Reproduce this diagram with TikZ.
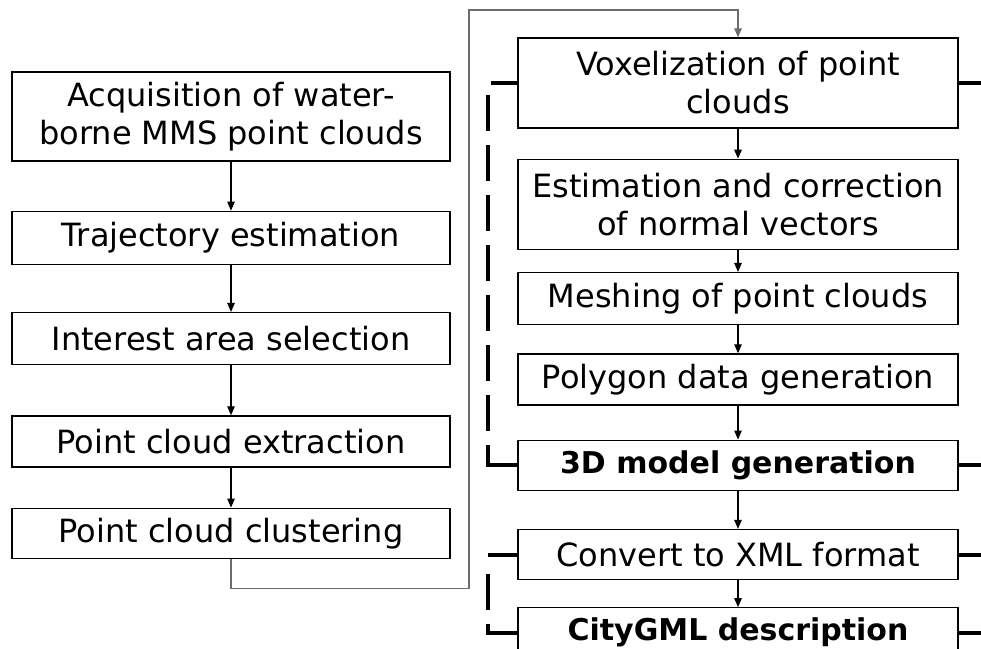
\documentclass[tikz,border=0pt]{standalone}
\usepackage{fontspec}
\setmainfont{DejaVu Sans}
\usepackage{tikz}
\usetikzlibrary{arrows.meta,positioning,calc}
\newcommand{\keystep}[1]{{\fontsize{30}{36}\selectfont\bfseries #1}}

\begin{document}
\begin{tikzpicture}[
      x=1pt, y=1pt, >={Triangle[length=9pt,width=7.5pt]},
      font=\fontsize{32}{38}\selectfont,
      stage/.style={draw, line width=1.3pt, align=center, inner sep=0pt},
      lstage/.style={stage, minimum width=438pt},
      rstage/.style={stage, minimum width=440pt},
      flow/.style={->, line width=1.1pt},
      link/.style={->, line width=1.2pt, draw=gray!85!black},
      brace/.style={line width=4pt},
      gapline/.style={brace, dash pattern=on 36pt off 14pt},
    ]
    \useasboundingbox (0,0) rectangle (981,-648);
    \coordinate (edge) at (981,0);

    % left column: acquisition and preprocessing
    \node[lstage, minimum height=89pt] (acq) at (231,-116.5)
      {Acquisition of water-\\borne MMS point clouds};
    \node[lstage, minimum height=53pt, below=49pt of acq] (traj) {Trajectory estimation};
    \node[lstage, minimum height=52pt, below=47pt of traj] (area) {Interest area selection};
    \node[lstage, minimum height=51pt, below=50pt of area] (extr) {Point cloud extraction};
    \node[lstage, minimum height=50pt, below=40pt of extr] (clus) {Point cloud clustering};

    % right column: modelling and output
    \node[rstage, minimum height=90pt] (vox) at (738,-83)
      {Voxelization of point\\clouds};
    \node[rstage, minimum height=90pt, below=30pt of vox] (norm)
      {Estimation and correction\\of normal vectors};
    \node[rstage, minimum height=52pt, below=22pt of norm] (mesh) {Meshing of point clouds};
    \node[rstage, minimum height=51pt, below=28pt of mesh] (poly) {Polygon data generation};
    \node[rstage, minimum height=50pt, below=34pt of poly] (model) {\keystep{3D model generation}};
    \node[rstage, minimum height=50pt, below=38pt of model] (xml) {Convert to XML format};
    \node[rstage, minimum height=50pt, below=27pt of xml] (gml) {\keystep{CityGML description}};

    \foreach \a/\b in {acq/traj, traj/area, area/extr, extr/clus,
                       vox/norm, norm/mesh, mesh/poly, poly/model, model/xml, xml/gml}
      \draw[flow] (\a) -- (\b);

    % jump from the left column to the top of the right one
    \coordinate (bend) at (469,-10);
    \draw[link] (clus.south) -- ++(0,-30) -| (bend) -| (vox.north);

    % brackets round the two groups
    \draw[brace] (vox.west) -- ++(-26,0);
    \draw[gapline] ($(vox.west)+(-29,-12)$) |- (model.west);
    \draw[brace] ($(model.west)+(-29,0)$) -- (model.west);
    \draw[brace] (xml.west) -- ++(-29,0);
    \draw[gapline] ($(xml.west)+(-29,-19)$) |- (gml.west);
    \draw[brace] ($(gml.west)+(-29,0)$) -- (gml.west);

    \foreach \n in {vox, model, xml, gml}
      \draw[brace] (\n.east) -- (\n.east -| edge);
  \end{tikzpicture}
\end{document}
